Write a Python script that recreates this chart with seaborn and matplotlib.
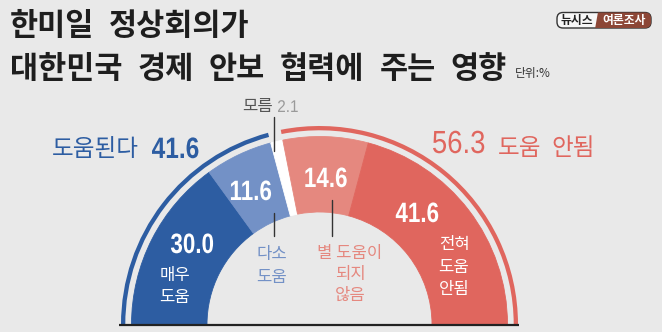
import matplotlib
matplotlib.use("Agg")
import matplotlib.pyplot as plt
import seaborn as sns
from matplotlib.patches import FancyBboxPatch, Polygon, PathPatch
from matplotlib.textpath import TextPath
from matplotlib.font_manager import FontProperties
from matplotlib.transforms import Affine2D

# Survey: effect of the Korea-US-Japan summit on Korea's economic/security cooperation (%)
categories = ["매우 도움", "다소 도움", "모름", "별 도움이 되지 않음", "전혀 도움 안됨"]
shares = [30.0, 11.6, 2.1, 14.6, 41.6]
group_labels = ["도움된다", "도움 안됨"]
group_totals = [41.6, 56.3]

title_lines = ["한미일 정상회의가", "대한민국 경제 안보 협력에 주는 영향"]
unit_label = "단위:%"

BG = "#E9E9E9"
BLUE = "#2D5DA2"
LIGHT_BLUE = "#7391C6"
RED = "#E0665E"
LIGHT_RED = "#E5887F"
slice_colors = sns.color_palette([BLUE, LIGHT_BLUE, "#FFFFFF", LIGHT_RED, RED])

sns.set_theme(style="white", rc={"figure.facecolor": BG, "axes.facecolor": BG})
KR = ["Noto Sans CJK KR", "DejaVu Sans"]
plt.rcParams["font.family"] = KR

W, H = 662, 332
fig = plt.figure(figsize=(W / 100, H / 100), dpi=100)
ax = fig.add_axes([0, 0, 1, 1])

cx, cy = 319.5, 324.5
total = sum(shares)

# Half donut: the extra slice fills the lower half and is hidden.
wedges, _ = ax.pie(shares + [total], startangle=180, counterclock=True,
                   radius=188, center=(cx, cy),
                   colors=list(slice_colors) + [BG],
                   wedgeprops=dict(width=75.5, linewidth=0.6))
for w in wedges:
    w.set_edgecolor(w.get_facecolor())
wedges[-1].set_visible(False)

# Thin outer arcs grouping "helps" and "does not help"
helps = shares[0] + shares[1]
not_helps = shares[3] + shares[4]
arcs, _ = ax.pie([helps, shares[2], not_helps, total], startangle=180,
                 counterclock=True, radius=198.5, center=(cx, cy),
                 colors=[BLUE, BG, RED, BG],
                 wedgeprops=dict(width=4.3, linewidth=0))
for i in (1, 3):
    arcs[i].set_visible(False)

ax.set_xlim(0, W)
ax.set_ylim(H, 0)
ax.set_aspect("equal")
ax.axis("off")

# base line
ax.plot([cx - 201, cx + 199], [cy + 0.8, cy + 0.8], color="#222222", lw=1.6,
        solid_capstyle="butt")

renderer = fig.canvas.get_renderer()


def kr_text(x, yc, s, size, color, ha="center", weight="normal"):
    """Place hangul text with its glyph centre at yc (pixels)."""
    base = yc + 0.38 * size * 100 / 72
    return ax.text(x, base, s, fontsize=size, color=color, ha=ha, va="baseline",
                   family=KR, fontweight=weight)


def kr_words(x, yc, words, size, color, gap, weight="normal"):
    """Hangul words laid out left to right with a fixed gap in pixels."""
    for word in words:
        t = kr_text(x, yc, word, size, color, ha="left", weight=weight)
        bb = t.get_window_extent(renderer)
        x += bb.width + gap


def num_text(x, base, s, size_px, color, ha="center", weight="bold", sx=0.82):
    """Condensed numerals drawn as a glyph path scaled horizontally."""
    fp = FontProperties(family="Liberation Sans", weight=weight)
    tp = TextPath((0, 0), s, size=size_px, prop=fp)
    ext = tp.get_extents()
    if ha == "center":
        dx = -(ext.x0 + ext.x1) / 2 * sx
    elif ha == "left":
        dx = -ext.x0 * sx
    else:
        dx = -ext.x1 * sx
    tr = Affine2D().scale(sx, -1).translate(x + dx, base)
    ax.add_patch(PathPatch(tr.transform_path(tp), facecolor=color,
                           edgecolor="none", lw=0))


# Title
kr_words(10, 23.5, title_lines[0].split(), 22, "#1E1E1E", 15, weight="bold")
kr_words(10, 66, title_lines[1].split(), 22, "#1E1E1E", 15, weight="bold")
ax.text(515, 77, unit_label, fontsize=8.5, color="#333333", ha="left",
        va="baseline", family=KR)

# Logo
pill = FancyBboxPatch((557, 12.5), 94, 15.5,
                      boxstyle="round,pad=0,rounding_size=6",
                      facecolor="#F7F7F7", edgecolor="#333333", lw=1.0)
ax.add_patch(pill)
brown = Polygon([(598, 12), (653, 12), (653, 29), (595, 29)], closed=True,
                facecolor="#8C4636", edgecolor="none")
ax.add_patch(brown)
brown.set_clip_path(pill)
ax.text(577, 20.5, "뉴시스", fontsize=8.5, color="#222222", ha="center",
        va="center", family=KR, fontweight="bold")
ax.text(624, 20.5, "여론조사", fontsize=8.5, color="white", ha="center",
        va="center", family=KR, fontweight="bold")

# Group headers
kr_text(52, 147, group_labels[0], 17, BLUE, ha="left")
num_text(152, 158, f"{group_totals[0]:.1f}", 29.5, BLUE, ha="left", sx=0.83)
num_text(433, 153, f"{group_totals[1]:.1f}", 32, RED, ha="left",
         weight="normal", sx=0.86)
kr_words(498, 146, group_labels[1].split(), 17, RED, 10)

# "모름" callout
kr_text(242, 105, categories[2], 12, "#555555", ha="left")
num_text(278, 112, f"{shares[2]:.1f}", 17, "#9A9A9A", ha="left",
         weight="normal", sx=0.9)
ax.plot([273.5, 273.5], [117, 151], color="#333333", lw=1.0)

# Slice values
value_pos = [(192, 253), (251, 200), None, (326, 187), (417, 222)]
for v, pos in zip(shares, value_pos):
    if pos is not None:
        num_text(pos[0], pos[1], f"{v:.1f}", 28, "white", sx=0.8)

# Slice category labels
kr_text(175, 274, "매우", 12, "white")
kr_text(175, 296, "도움", 12, "white")

kr_text(272, 253, "다소", 12, LIGHT_BLUE)
kr_text(272, 276, "도움", 12, LIGHT_BLUE)
ax.plot([273.5, 273.5], [213, 236], color="#333333", lw=1.0)

kr_text(350, 252, "별 도움이", 12, LIGHT_RED)
kr_text(350, 273, "되지", 12, LIGHT_RED)
kr_text(350, 294, "않음", 12, LIGHT_RED)
ax.plot([332, 332], [200, 236], color="#333333", lw=1.0)

kr_text(454, 243, "전혀", 12, "white")
kr_text(454, 266, "도움", 12, "white")
kr_text(454, 288, "안됨", 12, "white")

fig.savefig("out.png", dpi=100, facecolor=BG)
